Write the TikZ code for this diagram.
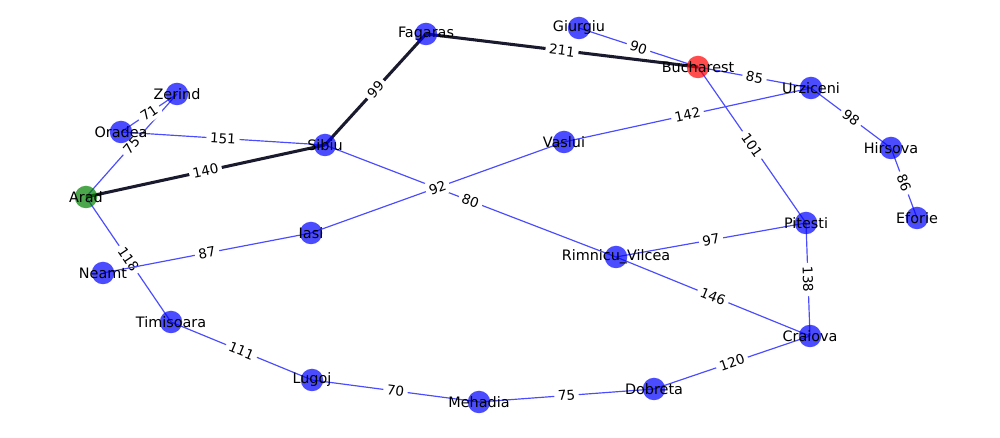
\documentclass[tikz,border=0pt]{standalone}
\usepackage{fontspec}
\setmainfont{DejaVu Sans}
\definecolor{routecol}{RGB}{26,26,46}
\definecolor{startcol}{RGB}{0,128,0}
\pgfdeclarelayer{edgelayer}
\pgfsetlayers{edgelayer,main}

\begin{document}
\begin{tikzpicture}[x=0.72bp, y=-0.72bp,
    city/.style={circle, fill=blue, fill opacity=0.7, minimum size=16.2bp, inner sep=0pt},
    cityname/.style={fill opacity=1, text opacity=1, inner sep=0pt, font=\fontsize{10.4}{12}\selectfont},
    road/.style={draw=blue!70!white, line width=0.85bp},
    route/.style={draw=routecol, line width=2.2bp},
    dist/.style={midway, sloped, fill=white, rounded corners=2.6pt, inner sep=2.6pt, font=\fontsize{9.8}{11}\selectfont}]
            \useasboundingbox (0,0) rectangle (1000,438);

            % cities
            \node[city, fill=startcol, label={[cityname]center:Arad}] (arad) at (86,197) {};
            \node[city, label={[cityname]center:Zerind}] (zerind) at (177,94) {};
            \node[city, label={[cityname]center:Oradea}] (oradea) at (121,132) {};
            \node[city, label={[cityname]center:Sibiu}] (sibiu) at (325,145) {};
            \node[city, label={[cityname]center:Timisoara}] (timisoara) at (171,322) {};
            \node[city, label={[cityname]center:Lugoj}] (lugoj) at (312,380) {};
            \node[city, label={[cityname]center:Mehadia}] (mehadia) at (479,402) {};
            \node[city, label={[cityname]center:Dobreta}] (dobreta) at (654,389) {};
            \node[city, label={[cityname]center:Craiova}] (craiova) at (810,336) {};
            \node[city, label={[cityname]center:Rimnicu\_Vilcea}] (rimnicu) at (616,257) {};
            \node[city, label={[cityname]center:Pitesti}] (pitesti) at (806,223) {};
            \node[city, label={[cityname]center:Fagaras}] (fagaras) at (426,34) {};
            \node[city, fill=red, label={[cityname]center:Bucharest}] (bucharest) at (698,67) {};
            \node[city, label={[cityname]center:Giurgiu}] (giurgiu) at (579,28) {};
            \node[city, label={[cityname]center:Urziceni}] (urziceni) at (811,88) {};
            \node[city, label={[cityname]center:Hirsova}] (hirsova) at (891,148) {};
            \node[city, label={[cityname]center:Eforie}] (eforie) at (917,218) {};
            \node[city, label={[cityname]center:Vaslui}] (vaslui) at (564,142) {};
            \node[city, label={[cityname]center:Iasi}] (iasi) at (311,233) {};
            \node[city, label={[cityname]center:Neamt}] (neamt) at (103,273) {};

            \begin{pgfonlayer}{edgelayer}
            \draw[road] (arad.center) to node[dist]{75} (zerind.center);
            \draw[road] (oradea.center) to node[dist]{71} (zerind.center);
            \draw[road] (oradea.center) to node[dist]{151} (sibiu.center);
            \draw[road] (arad.center) to node[dist]{118} (timisoara.center);
            \draw[road] (timisoara.center) to node[dist]{111} (lugoj.center);
            \draw[road] (lugoj.center) to node[dist]{70} (mehadia.center);
            \draw[road] (mehadia.center) to node[dist]{75} (dobreta.center);
            \draw[road] (dobreta.center) to node[dist]{120} (craiova.center);
            \draw[road] (craiova.center) to node[dist]{146} (rimnicu.center);
            \draw[road] (pitesti.center) to node[dist]{138} (craiova.center);
            \draw[road] (rimnicu.center) to node[dist]{97} (pitesti.center);
            \draw[road] (sibiu.center) to node[dist]{80} (rimnicu.center);
            \draw[road] (pitesti.center) to node[dist]{101} (bucharest.center);
            \draw[road] (giurgiu.center) to node[dist]{90} (bucharest.center);
            \draw[road] (bucharest.center) to node[dist]{85} (urziceni.center);
            \draw[road] (urziceni.center) to node[dist]{98} (hirsova.center);
            \draw[road] (hirsova.center) to node[dist]{86} (eforie.center);
            \draw[road] (vaslui.center) to node[dist]{142} (urziceni.center);
            \draw[road] (iasi.center) to node[dist]{92} (vaslui.center);
            \draw[road] (neamt.center) to node[dist]{87} (iasi.center);

            % found path
            \draw[route] (arad.center) to node[dist]{140} (sibiu.center);
            \draw[route] (sibiu.center) to node[dist]{99} (fagaras.center);
            \draw[route] (fagaras.center) to node[dist]{211} (bucharest.center);
            \end{pgfonlayer}

        \end{tikzpicture}
\end{document}
